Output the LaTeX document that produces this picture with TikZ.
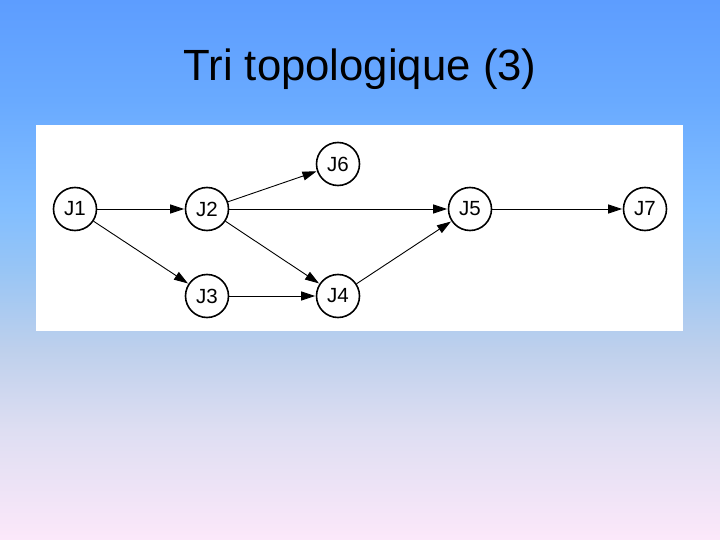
\documentclass[tikz,border=0pt]{standalone}
\usepackage{fontspec}
\setmainfont{Liberation Sans}
\usetikzlibrary{arrows.meta}
\definecolor{cA}{RGB}{93,157,255}
\definecolor{cB}{RGB}{105,170,255}
\definecolor{cC}{RGB}{130,190,255}
\definecolor{cD}{RGB}{152,197,245}
\definecolor{cE}{RGB}{190,208,236}
\definecolor{cF}{RGB}{222,222,242}
\definecolor{cG}{RGB}{252,232,250}
\pgfdeclareverticalshading{bgshade}{100bp}{color(0bp)=(cG); color(25bp)=(cG); color(35.2bp)=(cF); color(42.6bp)=(cE); color(50bp)=(cD); color(55.6bp)=(cC); color(65.7bp)=(cB); color(75bp)=(cA); color(100bp)=(cA)}
\tikzset{
  job/.style={circle, draw=black, line width=1.6pt, fill=white, minimum size=43pt, inner sep=0pt, font=\fontsize{20.5}{22}\selectfont},
  edge/.style={line width=0.9pt, -{Triangle[length=14pt,width=9pt]}, shorten >=0.5pt}
}
\begin{document}
\begin{tikzpicture}[x=1pt,y=-1pt]
\useasboundingbox (0,0) rectangle (720,540);
\shade[shading=bgshade] (0,0) rectangle (720,540);
\fill[white] (36,125) rectangle (683,331);
\node[font=\fontsize{43.7}{50}\selectfont] (title) at (360,69) {Tri topologique (3)};
\node[job] (J1) at (75,209) {J1};
\node[job] (J2) at (207,209) {J2};
\node[job] (J6) at (338,164) {J6};
\node[job] (J5) at (470,209) {J5};
\node[job] (J7) at (645,209) {J7};
\node[job] (J3) at (207,296) {J3};
\node[job] (J4) at (338,296) {J4};
\draw[edge] (J1) -- (J2);
\draw[edge] (J1) -- (J3);
\draw[edge] (J2) -- (J6);
\draw[edge] (J2) -- (J5);
\draw[edge] (J2) -- (J4);
\draw[edge] (J3) -- (J4);
\draw[edge] (J4) -- (J5);
\draw[edge] (J5) -- (J7);
\end{tikzpicture}
\end{document}
